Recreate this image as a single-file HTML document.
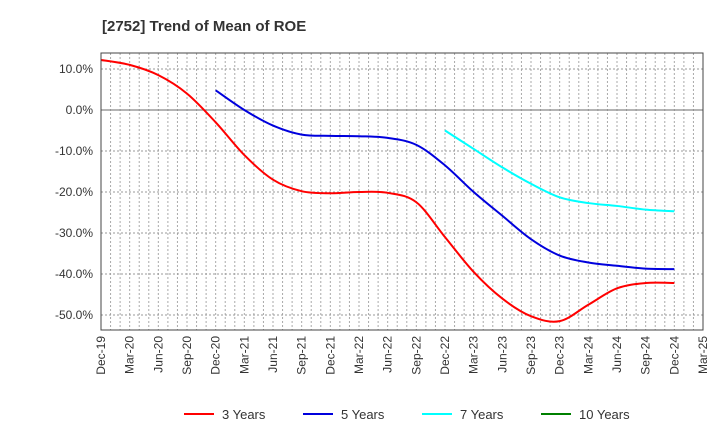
<!DOCTYPE html>
<html><head><meta charset="utf-8"><style>
body{margin:0;background:#fff;font-family:"Liberation Sans",sans-serif}
svg text{font-family:"Liberation Sans",sans-serif}
</style></head><body>
<svg id="c" width="720" height="440">
<text x="102" y="31" font-size="15" font-weight="bold" fill="#333">[2752]  Trend of Mean of ROE</text>
<g id="grid"></g><g id="series"></g><g id="axes"></g><g id="legend"></g>
</svg>
<script>
const xLabels=["Dec-19","Mar-20","Jun-20","Sep-20","Dec-20","Mar-21","Jun-21","Sep-21","Dec-21","Mar-22","Jun-22","Sep-22","Dec-22","Mar-23","Jun-23","Sep-23","Dec-23","Mar-24","Jun-24","Sep-24","Dec-24","Mar-25"];
const yTicks=[10,0,-10,-20,-30,-40,-50];
const s3=[12.2,11,8.5,4,-3,-11,-17,-19.8,-20.3,-20,-20.2,-22.5,-31,-39.5,-46,-50.3,-51.5,-47.5,-43.5,-42.2,-42.2];
const s5=[4.8,0,-3.8,-6,-6.3,-6.4,-6.8,-8.5,-13.5,-20,-25.8,-31.5,-35.5,-37.2,-38,-38.7,-38.8];
const s7=[-5,-9.5,-14,-18,-21.3,-22.7,-23.4,-24.3,-24.7];
const s10=[];
const L=101,R=703,T=53,B=330;
const mx=(R-L)/63;
const X=q=>L+q*3*mx;
const Y=v=>110-v*4.1;
const ns="http://www.w3.org/2000/svg";
function mk(t,a,p){const e=document.createElementNS(ns,t);for(const k in a)e.setAttribute(k,a[k]);p.appendChild(e);return e;}
const g=document.getElementById('grid');
mk('rect',{x:L,y:T,width:R-L,height:B-T,fill:'#fff'},g);
for(let m=1;m<63;m++){const l=mk('line',{x1:L+m*mx,x2:L+m*mx,y1:T,y2:B,stroke:'#aaa','stroke-dasharray':'2,2','stroke-width':1},g);

}
yTicks.forEach(v=>{if(v===0)return;const l=mk('line',{x1:L,x2:R,y1:Y(v),y2:Y(v),stroke:'#999','stroke-dasharray':'2,2','stroke-width':1},g);

});
const z=mk('line',{x1:L,x2:R,y1:Y(0),y2:Y(0),stroke:'#888','stroke-width':1.2},g);


const a=document.getElementById('axes');
const fr=mk('rect',{x:L,y:T,width:R-L,height:B-T,fill:'none',stroke:'#444','stroke-width':1},a);


yTicks.forEach(v=>{const t=mk('text',{x:L-8,y:Y(v)+4,'text-anchor':'end','font-size':12,fill:'#333'},a);t.textContent=v.toFixed(1)+'%';

});
xLabels.forEach((s,i)=>{const x=X(i);const t=mk('text',{x:0,y:0,'text-anchor':'end','font-size':12,fill:'#333',transform:`translate(${x+4},${B+6}) rotate(-90)`},a);t.textContent=s;

});
function path(data,start){const p=data.map((v,i)=>[X(start+i),Y(v)]);if(p.length<2)return '';let d=`M${p[0][0]},${p[0][1]}`;
for(let i=0;i<p.length-1;i++){const p0=p[i-1]||p[i],p1=p[i],p2=p[i+1],p3=p[i+2]||p2;
d+=` C${p1[0]+(p2[0]-p0[0])/6},${p1[1]+(p2[1]-p0[1])/6} ${p2[0]-(p3[0]-p1[0])/6},${p2[1]-(p3[1]-p1[1])/6} ${p2[0]},${p2[1]}`;}return d;}
const sg=document.getElementById('series');
[[s3,0,'#ff0000','series-3-years'],[s5,4,'#0000dd','series-5-years'],[s7,12,'#00ffff','series-7-years'],[s10,0,'#008000','series-10-years']].forEach(([d,st,c,n])=>{
if(!d.length)return;const e=mk('path',{d:path(d,st),fill:'none',stroke:c,'stroke-width':2},sg);

});
const lg=document.getElementById('legend');
[['3 Years','#ff0000',184],['5 Years','#0000dd',303],['7 Years','#00ffff',422],['10 Years','#008000',541]].forEach(([s,c,x])=>{
const l=mk('line',{x1:x,x2:x+30,y1:414,y2:414,stroke:c,'stroke-width':2},lg);


const t=mk('text',{x:x+38,y:419,'font-size':13,fill:'#333'},lg);t.textContent=s;

});
</script>
</body></html>
